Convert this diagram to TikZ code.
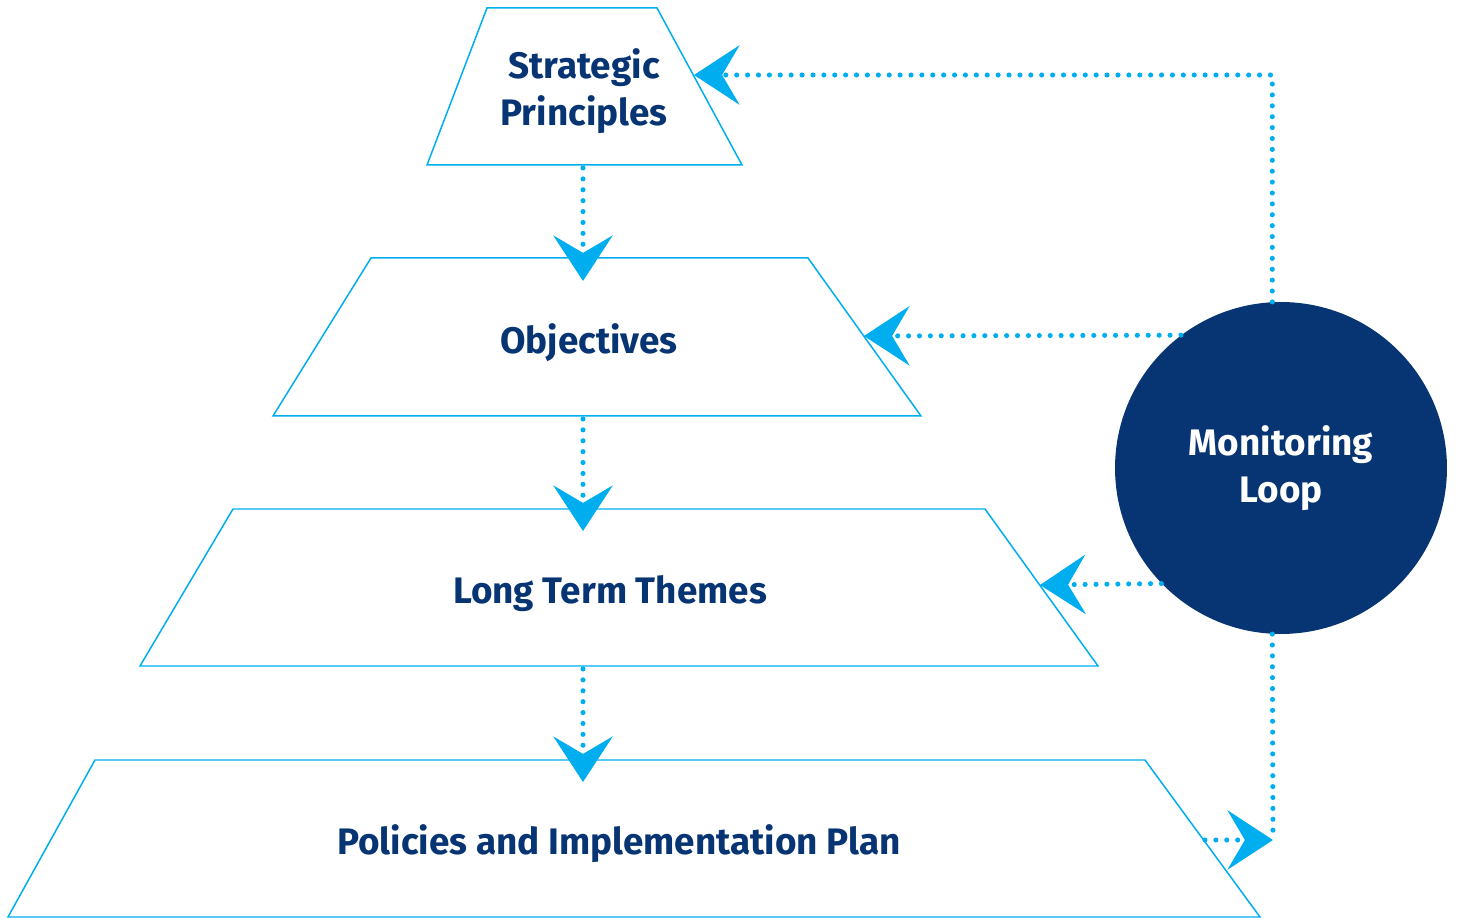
\documentclass[tikz,border=0pt]{standalone}
\usepackage{fontspec}
\setmainfont{Fira Sans}
\usetikzlibrary{arrows.meta}
\definecolor{navy}{HTML}{073473}
\definecolor{cyanline}{HTML}{00AEEF}
\begin{document}
\begin{tikzpicture}[x=0.02cm,y=-0.02cm,
 trap/.style={draw=cyanline, line width=0.85pt, line join=miter},
 lbl/.style={text=navy, font=\fontsize{21}{27}\selectfont\bfseries, align=center, inner sep=0pt},
 dotline/.style={draw=cyanline, line width=2.9pt, line cap=round, dash pattern=on 0pt off 6.2pt},
 arr/.style={dotline, -{Stealth[length=26pt,width=34pt,inset=10pt,line width=0pt,fill=cyanline,color=cyanline]}},
]
\useasboundingbox (0,0) rectangle (1458,918);
% trapezoids
\draw[trap] (487,8) -- (657,8) -- (742,165) -- (427,165) -- cycle;
\draw[trap] (371,258) -- (808,258) -- (921,416) -- (273,416) -- cycle;
\draw[trap] (233,509) -- (985,509) -- (1098,666) -- (140,666) -- cycle;
\draw[trap] (95,760) -- (1145,760) -- (1260,917) -- (8,917) -- cycle;
% labels
\node[lbl] (sp) at (584,91) {Strategic\\Principles};
\node[lbl] (obj) at (589,343) {Objectives};
\node[lbl] (ltt) at (610,594) {Long Term Themes};
\node[lbl] (pol) at (619,844) {Policies and Implementation Plan};
% monitoring loop
\node[circle, fill=navy, minimum size=6.64cm, inner sep=0pt, text=white,
  font=\fontsize{21}{27}\selectfont\bfseries, align=center] (mon) at (1281,468) {Monitoring\\Loop};
% connector coordinates
\coordinate (sp-b) at (583,168);
\coordinate (obj-t) at (583,281);
\coordinate (obj-b) at (583,419);
\coordinate (ltt-t) at (583,531);
\coordinate (ltt-b) at (583,669);
\coordinate (pol-t) at (583,782);
\coordinate (sp-r) at (694,75);
\coordinate (obj-r) at (864,336);
\coordinate (ltt-r) at (1040,585);
\coordinate (pol-r) at (1205,840);
\coordinate (corner) at (1273,840);
% connectors
\draw[arr] (sp-b) -- (obj-t);
\draw[arr] (obj-b) -- (ltt-t);
\draw[arr] (ltt-b) -- (pol-t);
\draw[arr] (mon.93) |- (sp-r);
\draw[arr] (mon.127.3) -- (obj-r);
\draw[arr] (mon.224.8) -- (ltt-r);
\draw[dotline] (mon.267) -- (corner);
\draw[arr] (pol-r) -- (corner);
\end{tikzpicture}
\end{document}
